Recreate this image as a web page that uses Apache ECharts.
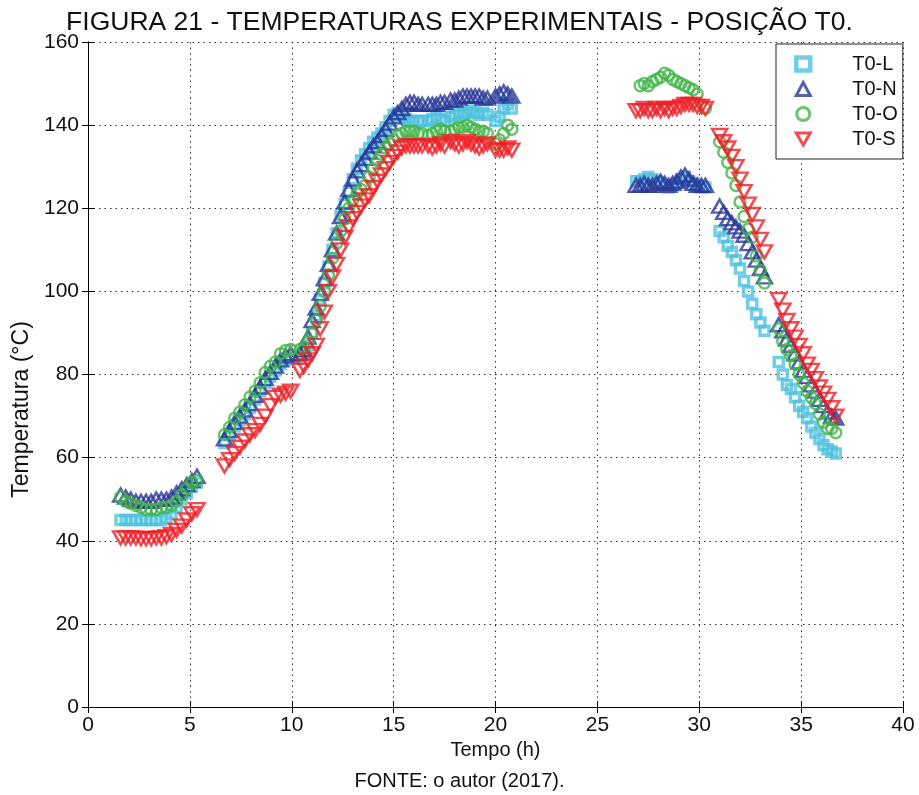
<!DOCTYPE html>
<html>
<head>
<meta charset="utf-8">
<script src="https://cdn.jsdelivr.net/npm/echarts@6/dist/echarts.min.js"></script>
<style>
html,body{margin:0;padding:0;background:#fff;}
#chart{width:919px;height:795px;}
</style>
</head>
<body>
<div id="chart"></div>
<script>
// Time (h), shared by all four sensors
const timeH = [
  // segment 1
  1.6,1.85,2.1,2.35,2.6,2.85,3.1,3.35,3.6,3.85,4.1,4.35,4.6,4.85,5.1,5.35,
  // segment 2a
  6.7,6.95,7.2,7.45,7.7,7.95,8.2,8.45,8.7,8.95,9.2,9.45,9.7,9.95,
  // segment 2b
  10.4,10.6,10.8,11.0,11.2,11.4,11.6,11.8,12.0,12.2,12.4,12.6,12.8,13.0,13.2,13.4,13.6,13.8,14.0,14.2,14.4,14.6,14.8,15.0,15.2,15.4,15.6,15.8,16.0,16.2,16.4,
  // segment 2c
  16.7,16.9,17.1,17.3,17.5, 17.8,18.0,18.2,18.4,18.6,18.8,19.0,19.2,19.4,19.6, 20.0,20.2,20.4,20.6,20.8,
  // segment 3a
  26.9,27.1,27.3,27.5,27.7,27.9,28.1,28.3,28.5,28.7,28.9,29.1,29.3,29.5,29.7,29.9,30.1,30.3,
  // segment 3b
  31.0,31.2,31.4,31.6,31.8,32.0,32.2,32.4,32.6,32.8,33.0,33.2, 33.9,34.1,34.3,34.5,34.7,34.9,35.1,35.3,35.5,35.7,35.9,36.1,36.3,36.5,36.7
];

const tempL = [
  45,45,45,45,45,45,45,45,45,45.5,46.5,48,50,51.5,53,54,
  63.5,65.5,67.5,69,70.5,72,74,76,78,79.5,81,82.5,83.5,84,
  84,85,87,90,94,98,102,106,110,114,118,121,124,127,129.5,131.5,133,134.5,136,137,138,139.5,141,142.5,143,142,141.5,141,141,141,141,
  141,141.5,142,141.5,141, 142,142.5,143,142.5,143,143.5,143,142.5,143,142.5, 141,142,144,145,144,
  126.5,126.5,127,127.5,127,126.5,126,125.5,125,125.5,126,127,127.5,126.5,126,125.5,125,125,
  114.5,113,111,109.5,107.5,105.5,102.5,100,97,94.5,92.5,90.5, 83,80,77.5,76.5,74.5,72.5,71,69.5,67.5,66,64.5,63,62,61.5,61
];

const tempN = [
  51,50.5,50,49.5,49.5,49.5,49.5,50,50,50,50.5,51.5,52.5,53.5,54.5,55.5,
  64.5,66.5,68.5,70,71.5,73,75,77,79,80.5,82,83.5,84.5,85,
  85,86,89,93,96,99.5,103,106.5,110,114,118,121.5,124.5,127,129,130.5,132,133.5,135,136,137.5,139,140.5,142,143,144,145,145.5,145.5,145,145,
  145,145,145,145.5,145.5, 146,146,146.5,147,147,147,147,147,146.5,146.5, 147,147.5,148,147.5,147,
  125.5,125.5,126,125.5,125.5,126,126.5,126,125.5,126,126.5,127.5,128,127,126,125.5,125.5,125.5,
  120.5,119,117.5,116.5,115.5,114.5,113.5,111.5,109.5,107.5,105.5,103.5, 92,90.5,88.5,87,85,83,81,79.5,77.5,76,74,72.5,71,70,69.5
];

const tempO = [
  50.5,49.5,49,48.5,48,47.5,47.5,47.5,48,48,48.5,49.5,51,52.5,54,54.5,
  65.5,67.3,69.5,71,72.7,74.6,76,78,80.5,82,83,85,85.8,86,
  86,86.5,88,90,93,96.5,100,104,108,111.5,114.5,117.5,120,122,123.5,124.5,125.5,127.5,129.5,131.5,133,134.5,135.5,136.5,137.5,138,138.5,138.5,138.5,138,138,
  137.5,138,138.5,139,138.5, 138.5,139,139.5,139.5,140,139.5,139,138.5,138.5,138, 135.5,136.5,138,140,139,
  null,149.5,150,149.5,150.5,151,151.5,152.5,152,151,150.5,150,149.5,149,148.5,147.5,null,144,
  136,133.5,131,128.5,125.5,121.5,118,115,113,108.5,105,102, 91,88,86,84.5,82.5,80,78,76,74.5,73,70.5,68.5,67,67,66
];

const tempS = [
  40.7,40.7,40.7,40.7,40.5,40.5,40.5,40.7,40.7,41,41.5,42.5,43.5,45,46.5,47.5,
  58,59.5,61,62.5,64,65.5,66.5,68,70,72.5,74.5,75,75.5,76,
  81,82,83.5,85,87,91,95,100,103.5,106.5,110,113,115.5,117.5,119,120.5,122,123,125,126.5,128,129.5,131,132.5,133.5,134.5,135,135,135,135,135,
  135,134.5,135,135.5,135, 136,135.5,135,135.5,136,135.5,135,134.5,135,135.5, 134,134,134,134.5,134,
  143.5,143.5,144,143.5,143.5,144,143.5,144,143.5,144,144,144.5,145,145,145,144.5,144.5,144,
  137.5,136,134.5,132.5,130,127,124,121,118.5,115.5,112.5,109.5, 98,95.5,93,91,89,87,85,82.5,81,79,77,75.5,74,72,70
];

const seriesNames = ['T0-L','T0-N','T0-O','T0-S'];
const xTicks = {min:0, max:40, interval:5};
const yTicks = {min:0, max:160, interval:20};

function pairs(vals){
  const out=[];
  for(let i=0;i<timeH.length;i++){ if(vals[i]!==null && vals[i]!==undefined) out.push([timeH[i], vals[i]]); }
  return out;
}

const downTri = 'path://M0,0L10,0L5,8.66Z';
const colors = ['#4fc2df','#2a3899','#42b549','#ee1f26'];
const font = 'Liberation Sans, Arial, sans-serif';

const chart = echarts.init(document.getElementById('chart'), null, {renderer:'canvas'});

const baseAxisLine = {show:true, lineStyle:{color:'#000', width:1}};
const option = {
  backgroundColor:'#fff',
  animation:false,
  textStyle:{fontFamily:font},
  title:[
    {text:'FIGURA 21 - TEMPERATURAS EXPERIMENTAIS - POSIÇÃO T0.', left:'center', top:4,
     textStyle:{fontFamily:font, fontSize:26.5, fontWeight:'normal', color:'#111'}},
    {text:'FONTE: o autor (2017).', left:'center', top:766,
     textStyle:{fontFamily:font, fontSize:20, fontWeight:'normal', color:'#111'}}
  ],
  grid:{left:88, right:16, top:42, bottom:88, containLabel:false},
  legend:{
    orient:'vertical', left:776, top:44,
    backgroundColor:'#fff', borderColor:'#222', borderWidth:1,
    padding:[10,5,10,18],
    itemWidth:14, itemHeight:13, itemGap:5,
    textStyle:{fontFamily:font, fontSize:20, color:'#111', padding:[0,0,0,37], lineHeight:20},
    data:[
      {name:'T0-L', icon:'rect', itemStyle:{color:'#fff', borderColor:colors[0], borderWidth:4.5}},
      {name:'T0-N', icon:'triangle', itemStyle:{color:'#fff', borderColor:colors[1], borderWidth:3}},
      {name:'T0-O', icon:'circle', itemStyle:{color:'#fff', borderColor:colors[2], borderWidth:3}},
      {name:'T0-S', icon:downTri, itemStyle:{color:'#fff', borderColor:colors[3], borderWidth:3}}
    ]
  },
  xAxis:[
    {type:'value', min:xTicks.min, max:xTicks.max, interval:xTicks.interval, position:'bottom',
     name:'Tempo (h)', nameLocation:'middle', nameGap:33,
     nameTextStyle:{fontFamily:font, fontSize:20, color:'#111'},
     axisLine:baseAxisLine, axisTick:{show:true, inside:true, length:6, lineStyle:{color:'#000'}},
     axisLabel:{fontFamily:font, fontSize:21, color:'#111', margin:8},
     splitLine:{show:true, lineStyle:{color:'#333', type:[1.5,4], width:1}}},
    {type:'value', min:xTicks.min, max:xTicks.max, interval:xTicks.interval, position:'top',
     axisLine:baseAxisLine, axisTick:{show:true, inside:true, length:6, lineStyle:{color:'#000'}},
     axisLabel:{show:false}, splitLine:{show:false}}
  ],
  yAxis:[
    {type:'value', min:yTicks.min, max:yTicks.max, interval:yTicks.interval, position:'left',
     name:'Temperatura (°C)', nameLocation:'middle', nameGap:54,
     nameTextStyle:{fontFamily:font, fontSize:23, color:'#111', padding:[0,70,0,0]},
     axisLine:baseAxisLine, axisTick:{show:true, inside:true, length:6, lineStyle:{color:'#000'}},
     axisLabel:{fontFamily:font, fontSize:21, color:'#111', margin:9},
     splitLine:{show:true, lineStyle:{color:'#333', type:[1.5,4], width:1}}},
    {type:'value', min:yTicks.min, max:yTicks.max, interval:yTicks.interval, position:'right',
     axisLine:baseAxisLine, axisTick:{show:true, inside:true, length:6, lineStyle:{color:'#000'}},
     axisLabel:{show:false}, splitLine:{show:false}}
  ],
  series:[
    {name:'T0-L', type:'scatter', data:pairs(tempL), symbol:'rect', symbolSize:9,
     itemStyle:{color:'rgba(255,255,255,0)', borderColor:colors[0], borderWidth:3.5}, z:2},
    {name:'T0-N', type:'scatter', data:pairs(tempN), symbol:'triangle', symbolSize:[15,13],
     itemStyle:{color:'rgba(255,255,255,0)', borderColor:colors[1], borderWidth:2.5}, z:3},
    {name:'T0-O', type:'scatter', data:pairs(tempO), symbol:'circle', symbolSize:11,
     itemStyle:{color:'rgba(255,255,255,0)', borderColor:colors[2], borderWidth:2.5}, z:4},
    {name:'T0-S', type:'scatter', data:pairs(tempS), symbol:downTri, symbolSize:[15,13],
     itemStyle:{color:'rgba(255,255,255,0)', borderColor:colors[3], borderWidth:2.5}, z:5}
  ]
};
chart.setOption(option);
</script>
</body>
</html>
